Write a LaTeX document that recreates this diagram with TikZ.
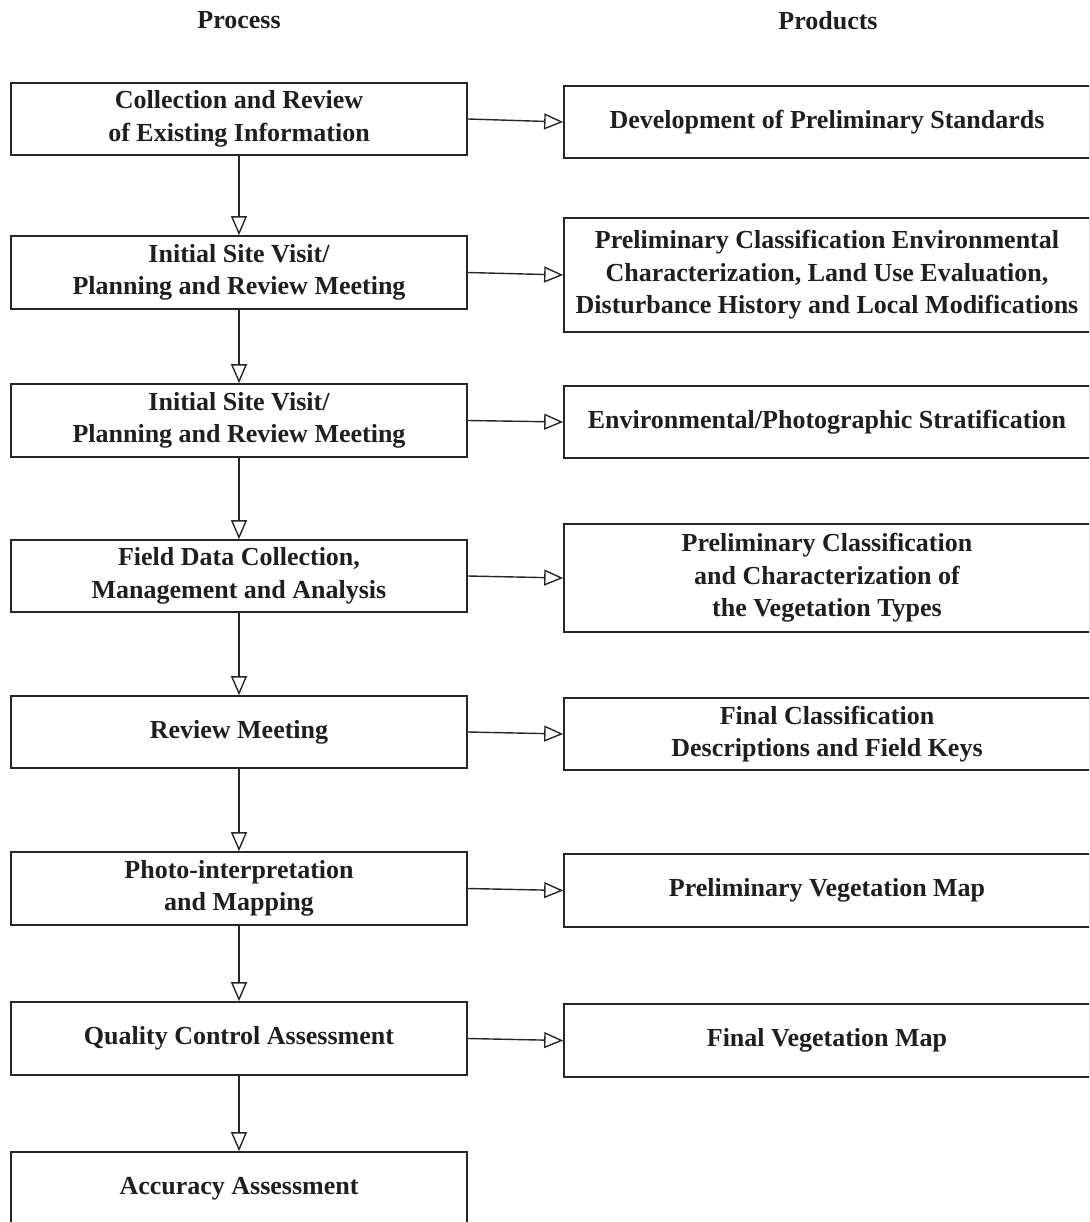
\documentclass[tikz,border=0pt]{standalone}
\usepackage{fontspec}
\setmainfont{Liberation Serif}
\usetikzlibrary{arrows.meta}
\begin{document}
\begin{tikzpicture}[x=1pt,y=-1pt,
  every node/.style={font=\fontsize{26}{32.5}\selectfont\bfseries, text=black!88, align=center, inner sep=0pt},
  lbox/.style={draw=black!85, line width=1.7pt, minimum width=456pt},
  rbox/.style={draw=black!85, line width=1.7pt, minimum width=526pt},
  title/.style={},
  flow/.style={draw=black!85, line width=1.4pt, -{Triangle[open, length=19pt, width=16pt, line width=1.4pt]}}
]
\useasboundingbox (0,0) rectangle (1089,1222);
\clip (0,0) rectangle (1089,1222);
\node[title] (tp) at (239,20) {Process};
\node[title] (tq) at (828,21) {Products};

\node[lbox, minimum height=72pt] (L1) at (239,119) {Collection and Review\\of Existing Information};
\node[lbox, minimum height=73pt] (L2) at (239,272.5) {Initial Site Visit/\\Planning and Review Meeting};
\node[lbox, minimum height=73pt] (L3) at (239,420.5) {Initial Site Visit/\\Planning and Review Meeting};
\node[lbox, minimum height=72pt] (L4) at (239,576) {Field Data Collection,\\Management and Analysis};
\node[lbox, minimum height=72pt] (L5) at (239,732) {Review Meeting};
\node[lbox, minimum height=73pt] (L6) at (239,888.5) {Photo-interpretation\\and Mapping};
\node[lbox, minimum height=73pt] (L7) at (239,1038.5) {Quality Control Assessment};
\node[lbox, minimum height=73pt] (L8) at (239,1188.5) {Accuracy Assessment};

\node[rbox, minimum height=72pt] (R1) at (827,122) {Development of Preliminary Standards};
\node[rbox, minimum height=114pt] (R2) at (827,275) {Preliminary Classification Environmental\\Characterization, Land Use Evaluation,\\Disturbance History and Local Modifications};
\node[rbox, minimum height=72pt] (R3) at (827,422) {Environmental/Photographic Stratification};
\node[rbox, minimum height=108pt] (R4) at (827,578) {Preliminary Classification\\and Characterization of\\the Vegetation Types};
\node[rbox, minimum height=72pt] (R5) at (827,734) {Final Classification\\Descriptions and Field Keys};
\node[rbox, minimum height=73pt] (R6) at (827,890.5) {Preliminary Vegetation Map};
\node[rbox, minimum height=73pt] (R7) at (827,1040.5) {Final Vegetation Map};

\foreach \a/\b in {L1/L2,L2/L3,L3/L4,L4/L5,L5/L6,L6/L7,L7/L8}
  \draw[flow] (\a.south) -- (\b.north);
\foreach \i in {1,...,7}
  \draw[flow] (L\i.east) -- (R\i.west);
\end{tikzpicture}
\end{document}
